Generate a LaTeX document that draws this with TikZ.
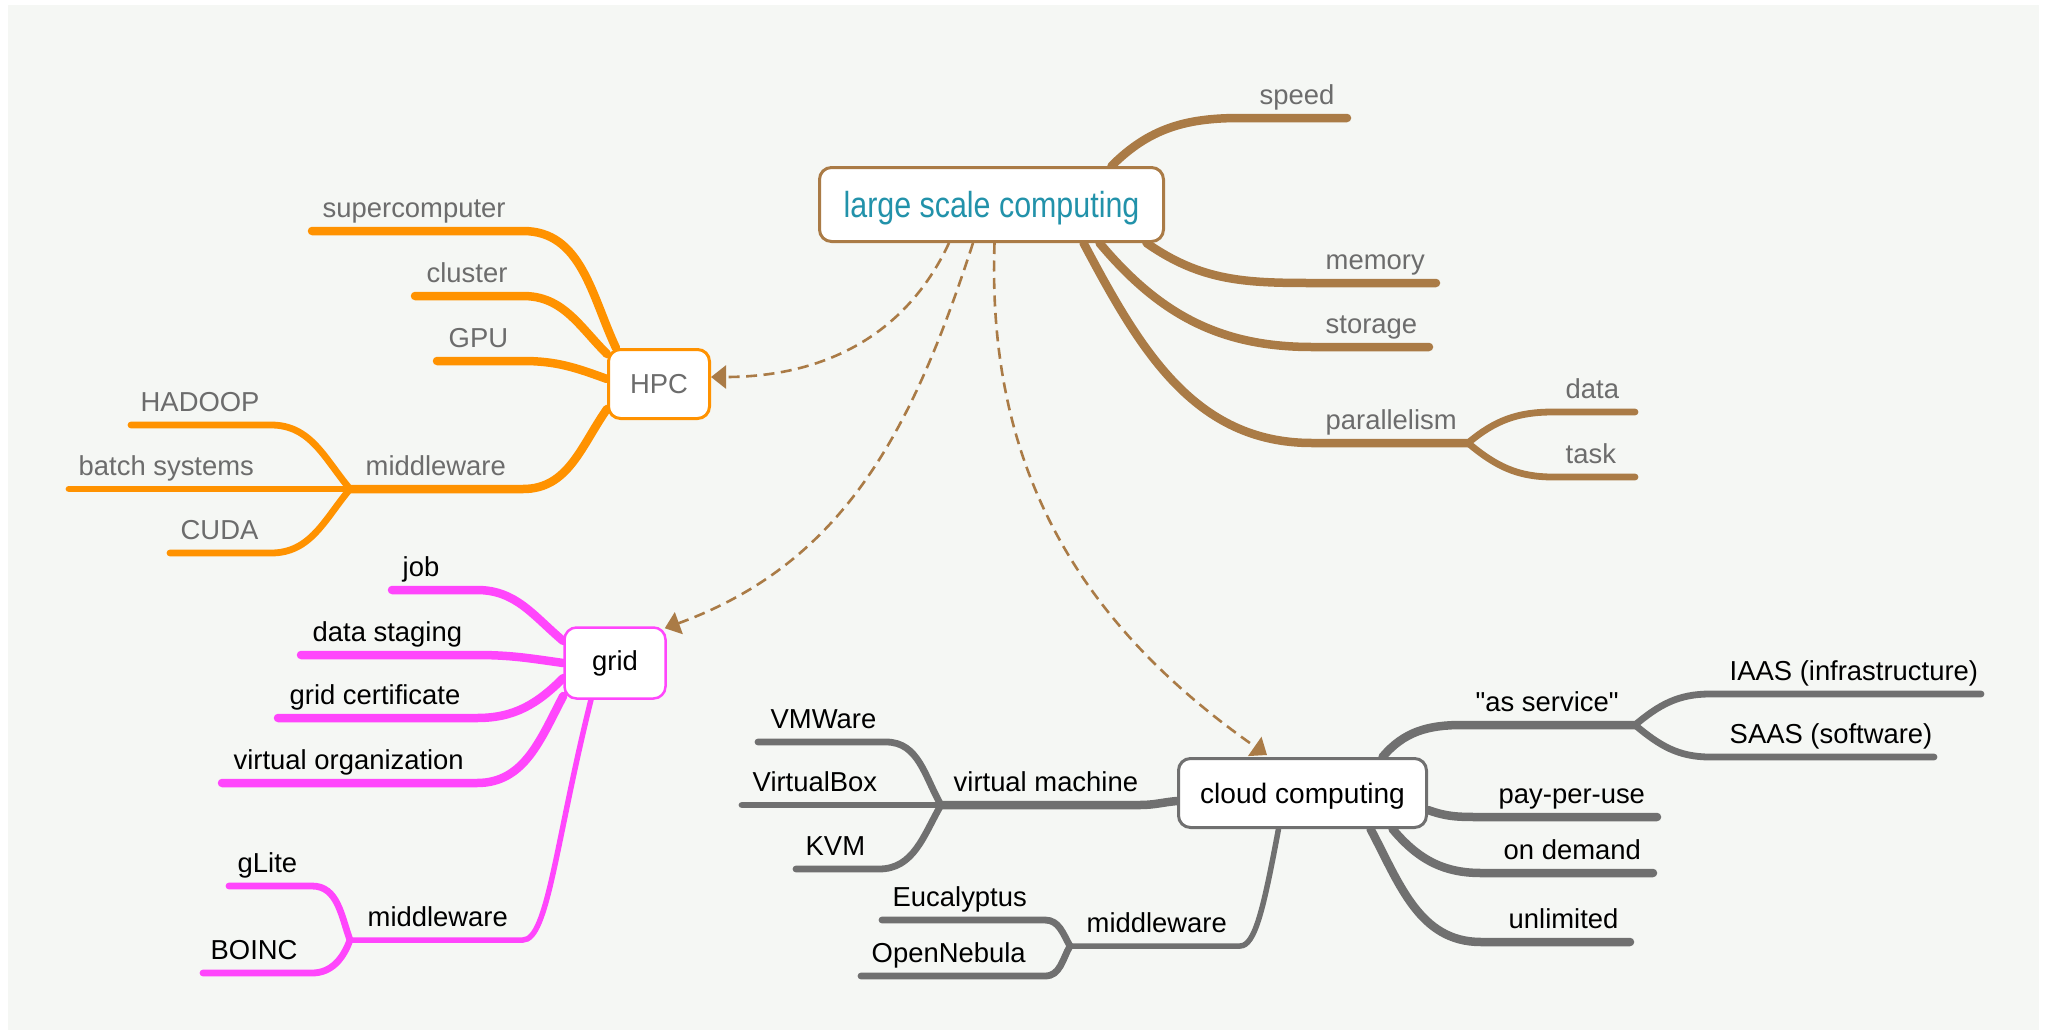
\documentclass[tikz,border=0pt]{standalone}
\usepackage{fontspec}
\setmainfont{Liberation Sans}[Ligatures=TeXOff]
\newfontfamily\titlefont{Liberation Sans}[FakeStretch=0.84]
\usepackage{tikz}
\usetikzlibrary{arrows.meta}
\usetikzlibrary{backgrounds}
\definecolor{paper}{RGB}{245,247,244}
\definecolor{lscbrown}{RGB}{170,123,70}
\definecolor{hpcorange}{RGB}{255,146,0}
\definecolor{gridpink}{RGB}{255,70,252}
\definecolor{cloudgrey}{RGB}{112,112,112}
\definecolor{leafgrey}{RGB}{108,108,108}
\definecolor{lscteal}{RGB}{34,146,170}
\newcommand{\lf}{\fontsize{7.8}{9}\selectfont}

\begin{document}
\begin{tikzpicture}[x=0.1mm, y=-0.1mm,
    topic/.style={shape=rectangle, rounded corners=1.2mm, fill=white, line width=0.3mm, inner sep=0pt},
    leaf/.style={anchor=base west, inner sep=0pt, font=\lf, text=#1},
    leaf/.default=black,
    twig/.style={line width=0.85mm, line cap=round},
    sprig/.style={line width=0.68mm, line cap=round},
    stalk/.style={line width=0.55mm, line cap=round},
    xref/.style={draw=lscbrown, line width=0.26mm, dash pattern=on 1.1mm off 0.65mm, -{Triangle[length=1.5mm, width=2.3mm]}}]
    \useasboundingbox (0,0) rectangle (2047,1035);

    \node[topic, draw=lscbrown, minimum width=34.4mm, minimum height=7.4mm, text depth=0pt, text=lscteal, font=\titlefont\fontsize{10.3}{12}\selectfont] (LSC) at (991.5,204.5) {large scale computing};
    \node[topic, draw=hpcorange, minimum width=10.1mm, minimum height=6.9mm, text=leafgrey, font=\fontsize{7.8}{9}\selectfont] (HPC) at (659,384) {HPC};
    \node[topic, draw=gridpink, line width=0.25mm, minimum width=10.1mm, minimum height=7.1mm, font=\lf] (GRID) at (615,663) {grid};
    \node[topic, draw=cloudgrey, minimum width=24.8mm, minimum height=6.9mm, text depth=0pt, font=\fontsize{8}{9.5}\selectfont] (CLOUD) at (1302.5,793) {cloud computing};

    \coordinate (speed_bend) at (1240,118);
    \coordinate (speed_end) at (1347,118);
    \coordinate (memory_bend) at (1312,283);
    \coordinate (memory_end) at (1436,283);
    \coordinate (storage_bend) at (1312,347);
    \coordinate (storage_end) at (1429,347);
    \coordinate (par_bend) at (1312,443);
    \coordinate (par_end) at (1468,443);
    \coordinate (data_bend) at (1553,412);
    \coordinate (data_end) at (1635,412);
    \coordinate (task_bend) at (1553,477);
    \coordinate (task_end) at (1635,477);
    \node[leaf=leafgrey] (speed) at (1259,104) {speed};
    \node[leaf=leafgrey] (memory) at (1325,269) {memory};
    \node[leaf=leafgrey] (storage) at (1325,333) {storage};
    \node[leaf=leafgrey] (par) at (1325,429) {parallelism};
    \node[leaf=leafgrey] (data) at (1565,398) {data};
    \node[leaf=leafgrey] (task) at (1565,463) {task};

    \coordinate (sc_bend) at (523,231);
    \coordinate (sc_end) at (312,231);
    \coordinate (cluster_bend) at (523,296);
    \coordinate (cluster_end) at (415,296);
    \coordinate (gpu_bend) at (523,361);
    \coordinate (gpu_end) at (437,361);
    \coordinate (hpcmw_bend) at (523,489);
    \coordinate (hpcmw_end) at (350,489);
    \coordinate (hadoop_bend) at (271,425);
    \coordinate (hadoop_end) at (131,425);
    \coordinate (batch_end) at (69,489);
    \coordinate (cuda_bend) at (271,553);
    \coordinate (cuda_end) at (170,553);
    \node[leaf=leafgrey] (sc) at (322,217) {supercomputer};
    \node[leaf=leafgrey] (cluster) at (426,282) {cluster};
    \node[leaf=leafgrey] (gpu) at (448,347) {GPU};
    \node[leaf=leafgrey] (hpcmw) at (365,475) {middleware};
    \node[leaf=leafgrey] (hadoop) at (140,411) {HADOOP};
    \node[leaf=leafgrey] (batch) at (78,475) {batch systems};
    \node[leaf=leafgrey] (cuda) at (180,539) {CUDA};

    \coordinate (job_bend) at (477,590);
    \coordinate (job_end) at (392,590);
    \coordinate (staging_bend) at (477,655);
    \coordinate (staging_end) at (301,655);
    \coordinate (cert_bend) at (477,718);
    \coordinate (cert_end) at (278,718);
    \coordinate (vo_bend) at (477,783);
    \coordinate (vo_end) at (222,783);
    \coordinate (gridmw_bend) at (523,940);
    \coordinate (gridmw_end) at (350,940);
    \coordinate (glite_bend) at (312,886);
    \coordinate (glite_end) at (229,886);
    \coordinate (boinc_bend) at (312,973);
    \coordinate (boinc_end) at (203,973);
    \node[leaf] (job) at (402,576) {job};
    \node[leaf] (staging) at (312,641) {data staging};
    \node[leaf] (cert) at (289,704) {grid certificate};
    \node[leaf] (vo) at (233,769) {virtual organization};
    \node[leaf] (gridmw) at (367,926) {middleware};
    \node[leaf] (glite) at (237,872) {gLite};
    \node[leaf] (boinc) at (210,959) {BOINC};

    \coordinate (service_bend) at (1462,725);
    \coordinate (service_end) at (1635,725);
    \coordinate (iaas_bend) at (1710,694);
    \coordinate (iaas_end) at (1981,694);
    \coordinate (saas_bend) at (1710,757);
    \coordinate (saas_end) at (1934,757);
    \coordinate (ppu_bend) at (1481,817);
    \coordinate (ppu_end) at (1657,817);
    \coordinate (demand_bend) at (1481,873);
    \coordinate (demand_end) at (1653,873);
    \coordinate (unlimited_bend) at (1481,942);
    \coordinate (unlimited_end) at (1630,942);
    \coordinate (cloudmw_bend) at (1240,946);
    \coordinate (cloudmw_end) at (1070,946);
    \coordinate (euca_bend) at (1045,920);
    \coordinate (euca_end) at (882,920);
    \coordinate (nebula_bend) at (1045,976);
    \coordinate (nebula_end) at (861,976);
    \coordinate (vm_bend) at (1140,805);
    \coordinate (vm_end) at (941,805);
    \coordinate (vmware_bend) at (886,742);
    \coordinate (vmware_end) at (758,742);
    \coordinate (vbox_end) at (742,805);
    \coordinate (kvm_bend) at (879,869);
    \coordinate (kvm_end) at (796,869);
    \node[leaf] (service) at (1475,711) {"as service"};
    \node[leaf] (iaas) at (1729,680) {IAAS (infrastructure)};
    \node[leaf] (saas) at (1729,743) {SAAS (software)};
    \node[leaf] (ppu) at (1498,803) {pay-per-use};
    \node[leaf] (demand) at (1503,859) {on demand};
    \node[leaf] (unlimited) at (1508,928) {unlimited};
    \node[leaf] (cloudmw) at (1086,932) {middleware};
    \node[leaf] (euca) at (892,906) {Eucalyptus};
    \node[leaf] (nebula) at (871,962) {OpenNebula};
    \node[leaf] (vm) at (953,791) {virtual machine};
    \node[leaf] (vmware) at (770,728) {VMWare};
    \node[leaf] (vbox) at (752,791) {VirtualBox};
    \node[leaf] (kvm) at (805,855) {KVM};

    \begin{pgfonlayer}{background}
    \fill[paper] (8,5) rectangle (2039,1030);

    \draw[twig, lscbrown] ([xshift=12mm]LSC.north) to[out=45, in=180] (speed_bend) -- (speed_end);
    \draw[twig, lscbrown] ([xshift=15.5mm]LSC.south) to[out=-35, in=180] (memory_bend) -- (memory_end);
    \draw[twig, lscbrown] ([xshift=10.8mm]LSC.south) to[out=-50, in=180] (storage_bend) -- (storage_end);
    \draw[twig, lscbrown] ([xshift=9.2mm]LSC.south) to[out=-62, in=180] (par_bend) -- (par_end);
    \draw[sprig, lscbrown] (par_end) to[out=40, in=180] (data_bend) -- (data_end);
    \draw[sprig, lscbrown] (par_end) to[out=-40, in=180] (task_bend) -- (task_end);

    \draw[twig, hpcorange] ([xshift=-4.3mm]HPC.north) to[out=115, in=0] (sc_bend) -- (sc_end);
    \draw[twig, hpcorange] ([yshift=3mm]HPC.west) to[out=135, in=0] (cluster_bend) -- (cluster_end);
    \draw[twig, hpcorange] ([yshift=0.5mm]HPC.west) to[out=160, in=0] (gpu_bend) -- (gpu_end);
    \draw[twig, hpcorange] ([yshift=-2.5mm]HPC.west) to[out=-125, in=0] (hpcmw_bend) -- (hpcmw_end);
    \draw[sprig, hpcorange] (hpcmw_end) to[out=130, in=0] (hadoop_bend) -- (hadoop_end);
    \draw[sprig, hpcorange] (hpcmw_end) -- (batch_end);
    \draw[sprig, hpcorange] (hpcmw_end) to[out=-130, in=0] (cuda_bend) -- (cuda_end);

    \draw[twig, gridpink] ([yshift=2.2mm]GRID.west) to[out=140, in=0] (job_bend) -- (job_end);
    \draw[twig, gridpink] (GRID.west) to[out=172, in=0] (staging_bend) -- (staging_end);
    \draw[twig, gridpink] ([yshift=-1.5mm]GRID.west) to[out=-135, in=0] (cert_bend) -- (cert_end);
    \draw[twig, gridpink] ([yshift=-3.3mm]GRID.west) to[out=-118, in=0] (vo_bend) -- (vo_end);
    \draw[stalk, gridpink] ([xshift=-2.4mm]GRID.south) .. controls +(-35,140) and +(25,0) .. (gridmw_bend) -- (gridmw_end);
    \draw[sprig, gridpink] (gridmw_end) to[out=110, in=0] (glite_bend) -- (glite_end);
    \draw[sprig, gridpink] (gridmw_end) to[out=-110, in=0] (boinc_bend) -- (boinc_end);

    \draw[twig, cloudgrey] ([xshift=8mm]CLOUD.north) to[out=50, in=180] (service_bend) -- (service_end);
    \draw[sprig, cloudgrey] (service_end) to[out=40, in=180] (iaas_bend) -- (iaas_end);
    \draw[sprig, cloudgrey] (service_end) to[out=-40, in=180] (saas_bend) -- (saas_end);
    \draw[twig, cloudgrey] ([yshift=-1.7mm]CLOUD.east) to[out=-20, in=180] (ppu_bend) -- (ppu_end);
    \draw[twig, cloudgrey] ([xshift=9mm]CLOUD.south) to[out=-50, in=180] (demand_bend) -- (demand_end);
    \draw[twig, cloudgrey] ([xshift=6.8mm]CLOUD.south) to[out=-62, in=180] (unlimited_bend) -- (unlimited_end);
    \draw[stalk, cloudgrey] ([xshift=-2.4mm]CLOUD.south) .. controls +(-15,80) and +(15,0) .. (cloudmw_bend) -- (cloudmw_end);
    \draw[sprig, cloudgrey] (cloudmw_end) to[out=120, in=0] (euca_bend) -- (euca_end);
    \draw[sprig, cloudgrey] (cloudmw_end) to[out=-120, in=0] (nebula_bend) -- (nebula_end);
    \draw[twig, cloudgrey] ([yshift=-0.8mm]CLOUD.west) to[out=185, in=0] (vm_bend) -- (vm_end);
    \draw[sprig, cloudgrey] (vm_end) to[out=120, in=0] (vmware_bend) -- (vmware_end);
    \draw[sprig, cloudgrey] (vm_end) -- (vbox_end);
    \draw[sprig, cloudgrey] (vm_end) to[out=-120, in=0] (kvm_bend) -- (kvm_end);

    \draw[xref] ([xshift=-4.25mm]LSC.south) to[out=-115, in=0] ([yshift=0.7mm]HPC.east);
    \draw[xref] ([xshift=-1.85mm]LSC.south) to[out=-108, in=20] ([xshift=-0.2mm,yshift=-0.2mm]GRID.north east);
    \draw[xref] ([xshift=0.3mm]LSC.south) to[out=-92, in=145] ([xshift=-3.55mm,yshift=0.2mm]CLOUD.north);
    \end{pgfonlayer}
\end{tikzpicture}
\end{document}
